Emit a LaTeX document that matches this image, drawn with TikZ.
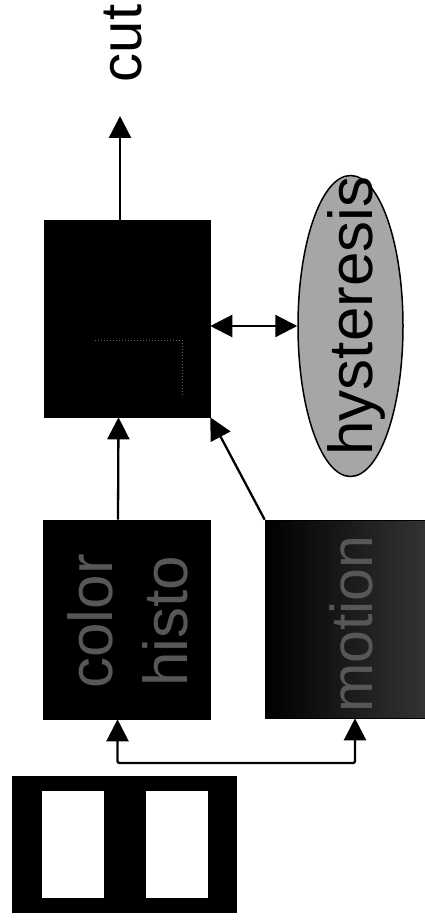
\documentclass[tikz,border=0pt]{standalone}
\usepackage{fontspec}
\setmainfont{Liberation Sans}
\usetikzlibrary{arrows.meta,shapes.geometric}
\begin{document}
\begin{tikzpicture}[x=1pt,y=-1pt,
  blk/.style={draw=black,fill=black,inner sep=0pt,line width=0.6pt},
  tipA/.tip={Triangle[length=22pt,width=22pt]},
  link/.style={line width=2.3pt,-tipA},
  twoway/.style={line width=2.3pt,tipA-tipA},
  big/.style={font=\fontsize{62}{75}\selectfont,inner sep=0pt},
  dimtext/.style={text=black!66},
]
\useasboundingbox (0,0) rectangle (425,920);

% processing blocks
\node[blk,minimum width=166pt,minimum height=197pt] (comb) at (127,318.5) {};
\node[blk,minimum width=167pt,minimum height=199pt] (histo) at (126.5,619.5) {};
\node[blk,left color=black,right color=black!80,minimum width=160pt,minimum height=198pt] (motion) at (345,619) {};

% faint trace inside the combining block
\draw[black!60,dotted,line width=1pt] (95,340) -- (182,340) -- (182,397);

% block labels
\node[big,dimtext,rotate=90,align=center] (histolabel) at (128,621.5) {color\\histo};
\node[font=\fontsize{59}{70}\selectfont,inner sep=0pt,dimtext,rotate=90] (motionlabel) at (351,624) {motion};

% hysteresis element
\node[ellipse,draw=black,line width=1.5pt,fill=black!35,minimum width=105pt,minimum height=301pt,inner sep=0pt] (hyst) at (350.5,326) {};
\node[font=\fontsize{62}{70}\selectfont,inner sep=0pt,rotate=90] (hystlabel) at (356,316) {hysteresis};

% output
\node[font=\fontsize{58}{70}\selectfont,inner sep=0pt,rotate=90] (cut) at (123,43.5) {cut};
\coordinate (cutin) at (120,116);

% input frame icon
\node[fill=black,minimum width=225pt,minimum height=137pt,inner sep=0pt] (icon) at (124.5,844.5) {};
\node[fill=white,minimum width=62pt,minimum height=107pt,inner sep=0pt] (frameA) at (73,844.5) {};
\node[fill=white,minimum width=62pt,minimum height=107pt,inner sep=0pt] (frameB) at (177,844.5) {};

% connectors
\draw[link] ([xshift=-7pt]comb.north) -- (cutin);
\draw[link] ([xshift=-8.5pt]histo.north) -- ([xshift=-8.5pt]comb.south);
\draw[link] (motion.north west) -- (comb.south east);
\draw[twoway] (comb.east |- hyst.west) -- (hyst.west);
\coordinate (bus) at (117.5,763);
\draw[twoway,rounded corners=2pt] ([xshift=-9pt]histo.south) -- (bus) -| ([xshift=10pt]motion.south);
\end{tikzpicture}
\end{document}
